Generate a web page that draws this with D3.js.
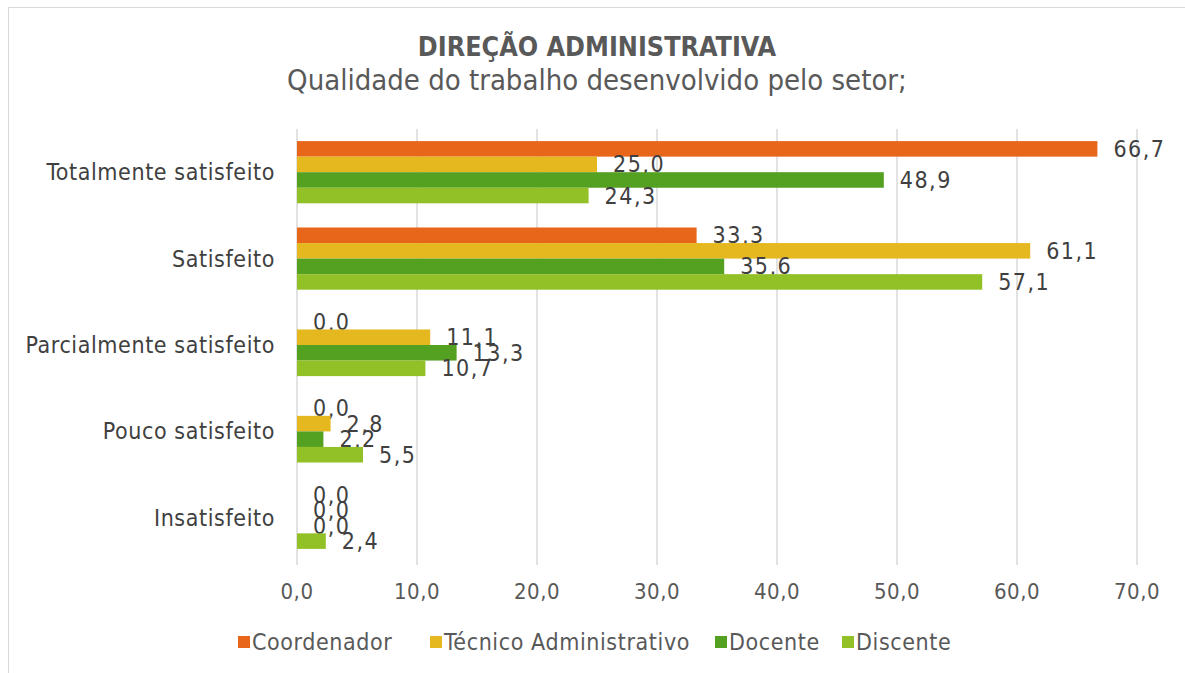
<!DOCTYPE html>
<html>
<head>
<meta charset="utf-8">
<script src="https://cdn.jsdelivr.net/npm/d3@7"></script>
<style>
  body { margin: 0; background: #fff; }
  svg { display: block; font-family: "DejaVu Sans Condensed", "Liberation Sans Narrow", "Open Sans", sans-serif; }
</style>
</head>
<body>
<svg width="1185" height="673"></svg>
<script>
var categories = ["Totalmente satisfeito", "Satisfeito", "Parcialmente satisfeito", "Pouco satisfeito", "Insatisfeito"];
var seriesNames = ["Coordenador", "Técnico Administrativo", "Docente", "Discente"];
var coordenador = [66.7, 33.3, 0.0, 0.0, 0.0];
var tecnico = [25.0, 61.1, 11.1, 2.8, 0.0];
var docente = [48.9, 35.6, 13.3, 2.2, 0.0];
var discente = [24.3, 57.1, 10.7, 5.5, 2.4];
var ticks = [0, 10, 20, 30, 40, 50, 60, 70];
var colors = ["#e8661a", "#e5b820", "#54a021", "#92c127"];

var svg = d3.select("svg"),
    width = +svg.attr("width"),
    height = +svg.attr("height");

var values = [coordenador, tecnico, docente, discente];
var fmt = function(v) { return v.toFixed(1).replace(".", ","); };

// chart frame
svg.append("rect")
    .attr("x", 8.5).attr("y", 7.5)
    .attr("width", width + 20).attr("height", height + 20)
    .attr("fill", "#fff").attr("stroke", "#d9d9d9");

svg.append("text")
    .attr("x", 597).attr("y", 56)
    .attr("text-anchor", "middle")
    .attr("font-size", 26.7).attr("font-weight", "bold")
    .attr("fill", "#595959")
    .text("DIREÇÃO ADMINISTRATIVA");

svg.append("text")
    .attr("x", 597).attr("y", 90)
    .attr("text-anchor", "middle")
    .attr("font-size", 29)
    .attr("fill", "#595959")
    .text("Qualidade do trabalho desenvolvido pelo setor;");

var x = d3.scaleLinear().domain([0, 70]).range([297, 1137]);
var y = d3.scaleBand().domain(categories).range([129, 561]).paddingInner(0.28).paddingOuter(0.14);
var y1 = d3.scaleBand().domain(seriesNames).range([0, y.bandwidth()]);

// gridlines
svg.append("g").selectAll("line")
  .data(ticks)
  .enter().append("line")
    .attr("x1", function(d) { return x(d); })
    .attr("x2", function(d) { return x(d); })
    .attr("y1", 129).attr("y2", 565)
    .attr("stroke", "#d9d9d9").attr("stroke-width", 1.5);

// tick labels
svg.append("g").selectAll("text")
  .data(ticks)
  .enter().append("text")
    .attr("x", function(d) { return x(d); })
    .attr("y", 599)
    .attr("text-anchor", "middle")
    .attr("font-size", 22).attr("letter-spacing", 0.5).attr("fill", "#595959")
    .text(function(d) { return fmt(d); });

// category labels
svg.append("g").selectAll("text")
  .data(categories)
  .enter().append("text")
    .attr("x", 275)
    .attr("y", function(d) { return y(d) + y.bandwidth() / 2; })
    .attr("dy", "0.35em")
    .attr("text-anchor", "end")
    .attr("font-size", 23).attr("letter-spacing", 0.6).attr("fill", "#404040")
    .text(function(d) { return d; });

var groups = svg.append("g").selectAll("g")
  .data(seriesNames)
  .enter().append("g")
    .attr("fill", function(d, i) { return colors[i]; });

groups.selectAll("rect")
  .data(function(s, i) { return categories.map(function(c, j) { return {s: s, c: c, v: values[i][j]}; }); })
  .enter().append("rect")
    .attr("x", x(0))
    .attr("y", function(d) { return y(d.c) + y1(d.s); })
    .attr("width", function(d) { return x(d.v) - x(0); })
    .attr("height", y1.bandwidth());

groups.selectAll("text")
  .data(function(s, i) { return categories.map(function(c, j) { return {s: s, c: c, v: values[i][j]}; }); })
  .enter().append("text")
    .attr("x", function(d) { return x(d.v) + 16; })
    .attr("y", function(d) { return y(d.c) + y1(d.s) + y1.bandwidth() / 2; })
    .attr("dy", "0.35em")
    .attr("font-size", 23).attr("letter-spacing", 1.5).attr("fill", "#404040")
    .text(function(d) { return fmt(d.v); });

// legend
var legendX = [238, 430, 715, 842];
var legend = svg.append("g").selectAll("g")
  .data(seriesNames)
  .enter().append("g")
    .attr("transform", function(d, i) { return "translate(" + legendX[i] + ",642)"; });

legend.append("rect")
    .attr("x", 0).attr("y", -6)
    .attr("width", 12).attr("height", 12)
    .attr("fill", function(d, i) { return colors[i]; });

legend.append("text")
    .attr("x", 14).attr("dy", "0.35em")
    .attr("font-size", 23).attr("letter-spacing", 0.6).attr("fill", "#595959")
    .text(function(d) { return d; });
</script>
</body>
</html>
